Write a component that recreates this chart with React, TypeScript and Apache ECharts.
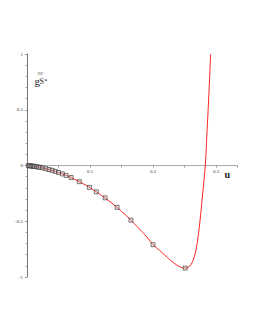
import React, { useEffect, useRef } from "react";
import * as echarts from "echarts";

// red curve
const curveU = [0, 0.01, 0.02, 0.03, 0.04, 0.05, 0.06, 0.07, 0.08, 0.09, 0.1, 0.11, 0.12, 0.13, 0.14, 0.15, 0.16, 0.17, 0.18, 0.19, 0.2, 0.21, 0.22, 0.23, 0.24, 0.25, 0.255, 0.26, 0.265, 0.27, 0.2745, 0.279, 0.283, 0.2855, 0.288, 0.2915];
const curveG = [0, -0.007, -0.016, -0.029, -0.044, -0.062, -0.084, -0.108, -0.136, -0.166, -0.198, -0.236, -0.275, -0.318, -0.362, -0.412, -0.462, -0.52, -0.578, -0.64, -0.71, -0.76, -0.81, -0.86, -0.9, -0.92, -0.915, -0.89, -0.83, -0.7, -0.5, -0.24, 0, 0.28, 0.56, 1.0];

// square markers
const markU = [0.002, 0.004, 0.006, 0.008, 0.01, 0.012, 0.015, 0.018, 0.021, 0.025, 0.03, 0.035, 0.04, 0.045, 0.05, 0.056, 0.062, 0.07, 0.083, 0.099, 0.11, 0.124, 0.143, 0.165, 0.2, 0.251];
const markG = [-0.001, -0.002, -0.004, -0.005, -0.007, -0.008, -0.011, -0.014, -0.017, -0.022, -0.029, -0.036, -0.044, -0.053, -0.062, -0.075, -0.089, -0.108, -0.145, -0.196, -0.236, -0.29, -0.375, -0.49, -0.71, -0.92];

const xLabels = ["0.1", "0.2", "0.3"];
const yLabels = ["-1", "-0.5", "0", "0.5", "1"];

export default function App() {
  const ref = useRef<HTMLDivElement>(null);
  useEffect(() => {
    if (!ref.current) return;
    const chart = echarts.init(ref.current, undefined, { renderer: "svg" });
    const fmtX = (v: number) => {
      const s = (Math.round(v * 10) / 10).toString();
      return Math.abs(v - Math.round(v * 10) / 10) < 1e-6 && xLabels.includes(s) ? s : "";
    };
    const fmtY = (v: number) => {
      const s = (Math.round(v * 2) / 2).toString();
      return yLabels.includes(s) ? s : "";
    };
    chart.setOption({
      animation: false,
      backgroundColor: "#fff",
      grid: { left: 27, top: 54, width: 210, height: 223, containLabel: false },
      xAxis: {
        type: "value",
        min: 0,
        max: 0.3333,
        interval: 0.1,
        position: "bottom",
        offset: -111.5,
        axisLine: { onZero: false, lineStyle: { color: "#aaa", width: 1 } },
        axisTick: { show: true, length: 2, lineStyle: { color: "#999" } },
        minorTick: { show: true, splitNumber: 2, length: 2, lineStyle: { color: "#999" } },
        splitLine: { show: false },
        axisLabel: {
          showMinLabel: false,
          showMaxLabel: false,
          fontSize: 5,
          color: "#333",
          fontFamily: "Liberation Serif",
          margin: 3,
          formatter: fmtX,
        },
      },
      yAxis: {
        type: "value",
        min: -1,
        max: 1,
        interval: 0.5,
        axisLine: { show: true, onZero: false, lineStyle: { color: "#777", width: 1 } },
        axisTick: { show: true, length: 2, lineStyle: { color: "#999" } },
        minorTick: { show: true, splitNumber: 5, length: 1.5, lineStyle: { color: "#aaa" } },
        splitLine: { show: false },
        axisLabel: { fontSize: 5, color: "#333", fontFamily: "Liberation Serif", margin: 4, formatter: fmtY },
      },
      series: [
        {
          type: "line",
          data: curveU.map((u, i) => [u, curveG[i]]),
          smooth: 0.4,
          showSymbol: false,
          lineStyle: { color: "#ff2020", width: 1 },
          z: 2,
        },
        {
          type: "scatter",
          data: markU.map((u, i) => [u, markG[i]]),
          symbol: "rect",
          symbolSize: 4,
          itemStyle: { color: "rgba(200,200,200,0.4)", borderColor: "#333", borderWidth: 0.8 },
          z: 3,
        },
      ],
      graphic: [
        { type: "text", x: 37.5, y: 71.5, style: { text: "ISP", fontSize: 4, fontFamily: "Liberation Serif", fill: "#555" } },
        { type: "text", x: 34.5, y: 75, style: { text: "g", fontSize: 11, fontFamily: "Liberation Serif", fill: "#222" } },
        { type: "text", x: 39.5, y: 77.5, style: { text: "S", fontSize: 8, fontFamily: "Liberation Serif", fill: "#222" } },
        { type: "text", x: 44, y: 77.5, style: { text: "*", fontSize: 7, fontFamily: "Liberation Serif", fill: "#222" } },
        { type: "text", x: 224.5, y: 169.5, style: { text: "u", fontSize: 10, fontFamily: "Liberation Serif", fontWeight: "bold", fill: "#222" } },
      ],
    });
    return () => chart.dispose();
  }, []);
  return <div ref={ref} style={{ position: "fixed", left: 0, top: 0, width: 255, height: 330, background: "#fff" }} />;
}
